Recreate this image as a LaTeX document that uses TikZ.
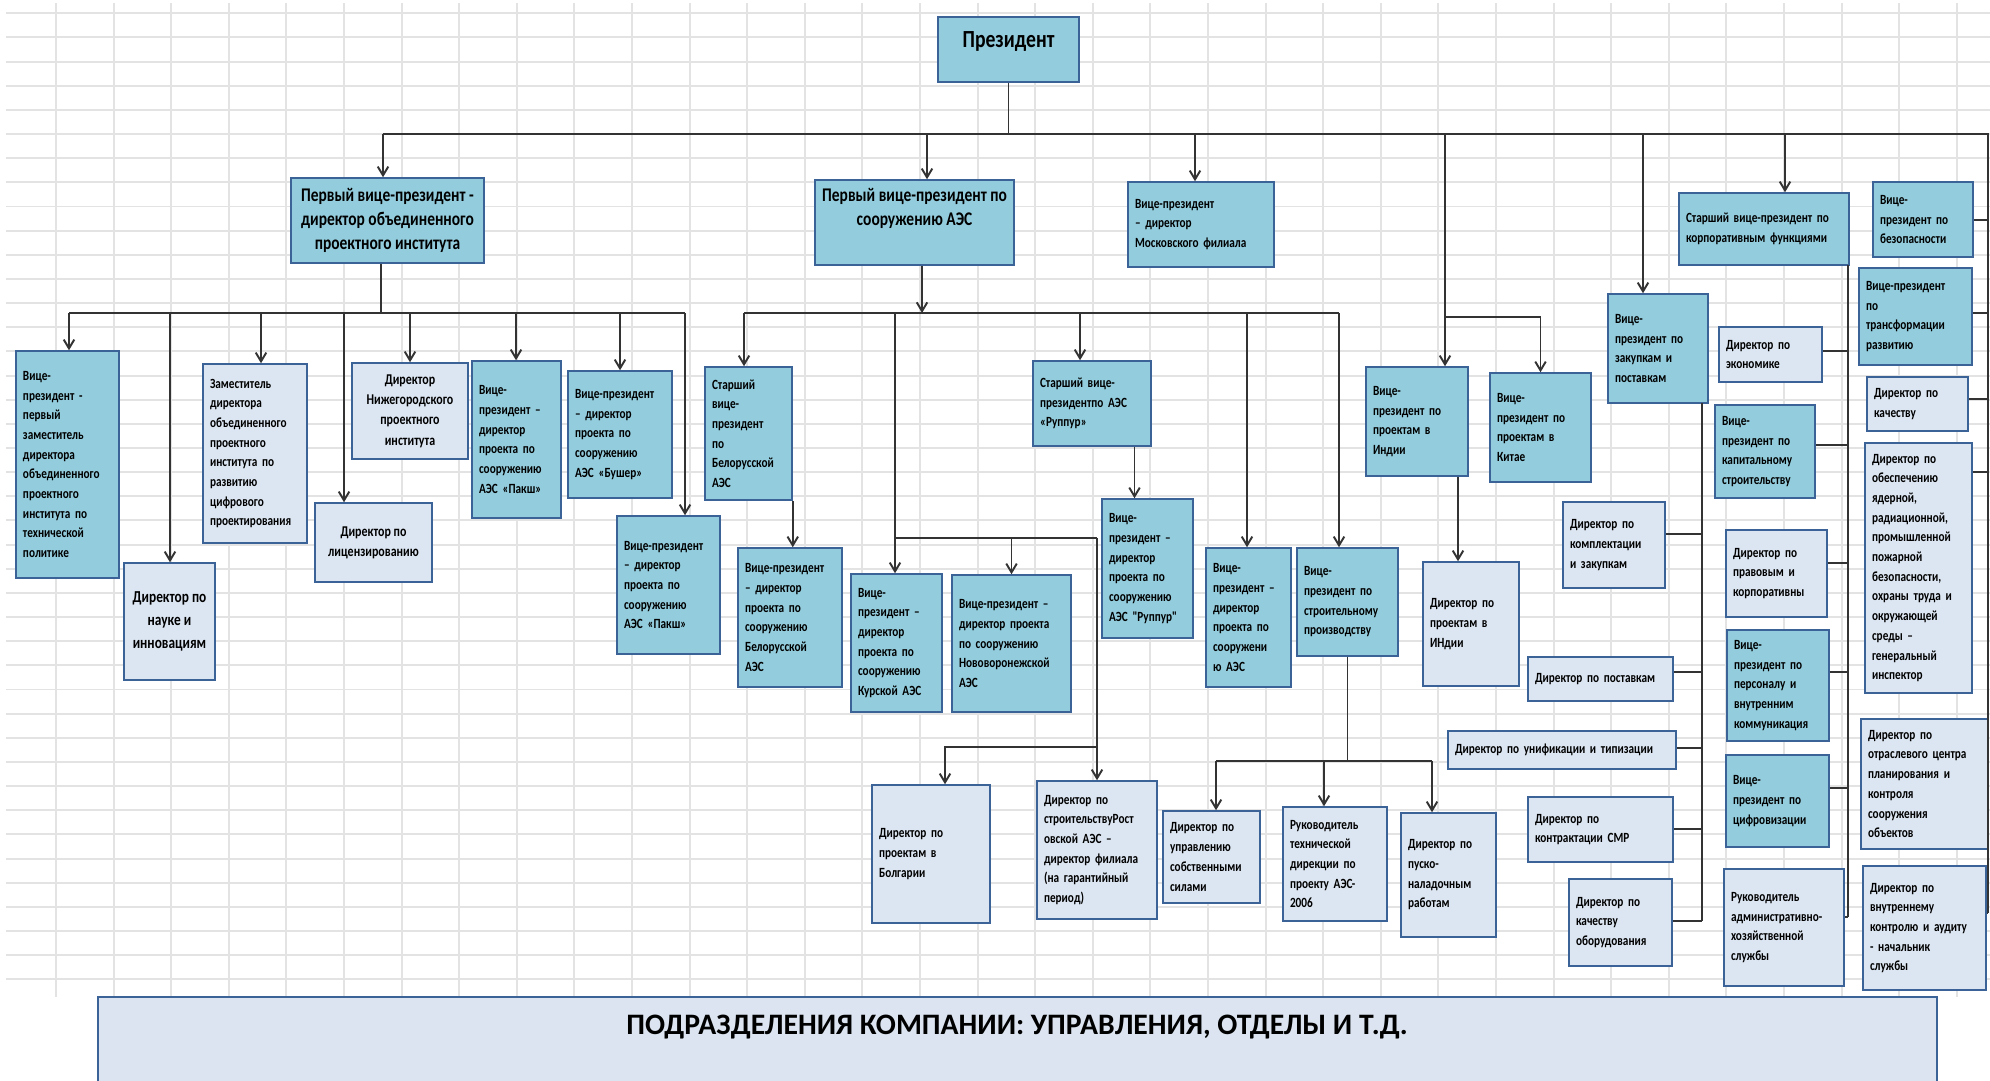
\documentclass[tikz,border=0pt]{standalone}
\usepackage{fontspec}
\setmainfont{Carlito}
\newfontfamily\boxfont{Carlito}[FakeStretch=0.8]
\usepackage{tikz}
\usetikzlibrary{arrows.meta}

\definecolor{dkfill}{HTML}{93CDDD}
\definecolor{ltfill}{HTML}{DCE6F2}
\definecolor{boxline}{HTML}{3B6397}
\definecolor{sheetline}{HTML}{E3E3E3}
\definecolor{bandfill}{HTML}{DBE4F0}

\tikzset{
  orgnode/.style={draw=boxline, line width=0.85pt, inner xsep=0.14cm, inner ysep=0pt, align=left,
    font=\boxfont\bfseries\fontsize{8}{11.2}\selectfont},
  dk/.style={orgnode, fill=dkfill},
  lt/.style={orgnode, fill=ltfill},
  ctr/.style={align=center, text width=},
  wire/.style={line width=1.1pt, draw=black!80},
  feed/.style={wire, ->},
  sheet/.style={line width=1.1pt, draw=sheetline}
}

% box from its corners (x1,y1,x2,y2)
\newcommand\orgbox[7]{%
  \pgfmathsetmacro\bw{(#5-#3)*0.02}%
  \pgfmathsetmacro\bh{(#6-#4)*0.02}%
  \node[minimum width=\bw cm, minimum height=\bh cm, text width={(\bw-0.28)*1cm}, #1]
    (#2) at ({(#3+#5)/2},{(#4+#6)/2}) {#7};}

\begin{document}
\begin{tikzpicture}[x=0.02cm, y=-0.02cm, >={Straight Barb[length=5pt,width=6pt]}]
\useasboundingbox (0,0) rectangle (1990,1081);
\fill[white] (0,0) rectangle (1990,1081);
\foreach \k in {0,...,40}
  \draw[sheet] (6,{13.3+24.15*\k}) -- (1990,{13.3+24.15*\k});
\foreach \k in {0,...,33}
  \draw[sheet] ({56+57.6*\k},3) -- ({56+57.6*\k},997);
\draw[draw=boxline, fill=bandfill, line width=1.1pt] (98,997) rectangle (1937,1100);
\node[font=\bfseries\fontsize{16.9}{20}\selectfont] (units) at (1017,1027) {ПОДРАЗДЕЛЕНИЯ КОМПАНИИ: УПРАВЛЕНИЯ, ОТДЕЛЫ И Т.Д.};

\orgbox{dk, ctr, font=\boxfont\bfseries\fontsize{14}{16}\selectfont}{pres}{938}{17}{1079}{82}{\raisebox{1.4pt}[0pt][0pt]{Президент}}
\orgbox{dk, ctr, font=\boxfont\bfseries\fontsize{11}{13.6}\selectfont}{fvp1}{291}{178}{484}{263}{Первый вице-президент -\\директор объединенного\\проектного института}
\orgbox{dk, ctr, font=\boxfont\bfseries\fontsize{11}{13.6}\selectfont}{fvp2}{817}{180}{1012}{265}{Первый вице-президент по\\сооружению АЭС\\\strut}
\orgbox{dk}{moscow}{1128}{182}{1274}{267}{Вице-президент\\– директор\\Московского филиала}

\orgbox{dk}{vpTech}{16}{351}{119}{578}{Вице-\\президент -\\первый\\заместитель\\директора\\объединенного\\проектного\\института по\\технической\\политике}
\orgbox{lt, ctr, font=\boxfont\bfseries\fontsize{9.5}{13}\selectfont}{nauka}{124}{563}{215}{680}{Директор по\\науке и\\инновациям}
\orgbox{lt}{zam}{203}{364}{307}{543}{Заместитель\\директора\\объединенного\\проектного\\института по\\развитию\\цифрового\\проектирования}
\orgbox{lt, ctr, font=\boxfont\bfseries\fontsize{8.5}{11.4}\selectfont}{licenz}{315}{503}{432}{582}{Директор по\\лицензированию}
\orgbox{lt, ctr, font=\boxfont\bfseries\fontsize{8.5}{11.6}\selectfont}{nizhn}{352}{363}{468}{459}{Директор\\Нижегородского\\проектного\\института}
\orgbox{dk}{paks1}{472}{361}{561}{518}{Вице-\\президент –\\директор\\проекта по\\сооружению\\АЭС «Пакш»}
\orgbox{dk}{busher}{568}{371}{672}{498}{Вице-президент\\– директор\\проекта по\\сооружению\\АЭС «Бушер»}
\orgbox{dk}{paks2}{617}{516}{720}{654}{Вице-президент\\– директор\\проекта по\\сооружению\\АЭС «Пакш»}

\orgbox{dk}{belSr}{705}{367}{792}{500}{Старший\\вице-\\президент\\по\\Белорусской\\АЭС}
\orgbox{dk}{bel}{738}{548}{842}{687}{Вице-президент\\– директор\\проекта по\\сооружению\\Белорусской\\АЭС}
\orgbox{dk}{kursk}{851}{574}{942}{712}{Вице-\\президент –\\директор\\проекта по\\сооружению\\Курской АЭС}
\orgbox{dk}{novovor}{952}{575}{1071}{712}{Вице-президент –\\директор проекта\\по сооружению\\Нововоронежской\\АЭС}
\orgbox{dk}{ruppurSr}{1033}{361}{1151}{446}{Старший вице-\\президентпо АЭС\\«Руппур»}
\orgbox{dk}{ruppur}{1102}{499}{1193}{638}{Вице-\\президент –\\директор\\проекта по\\сооружению\\АЭС "Руппур"}
\orgbox{dk}{vpAes}{1206}{548}{1291}{687}{Вице-\\президент –\\директор\\проекта по\\сооружени\\ю АЭС}
\orgbox{dk}{vpStroi}{1297}{548}{1398}{656}{Вице-\\президент по\\строительному\\производству}
\orgbox{lt}{bulg}{872}{785}{990}{923}{Директор по\\проектам в\\Болгарии}
\orgbox{lt}{rostov}{1037}{781}{1157}{919}{Директор по\\строительствуРост\\овской АЭС –\\директор филиала\\(на гарантийный\\период)}
\orgbox{lt}{sobstv}{1163}{811}{1260}{903}{Директор по\\управлению\\собственными\\силами}
\orgbox{lt}{ruktech}{1283}{807}{1387}{921}{Руководитель\\технической\\дирекции по\\проекту АЭС-\\2006}
\orgbox{lt}{pusk}{1401}{813}{1496}{937}{Директор по\\пуско-\\наладочным\\работам}

\orgbox{dk}{india}{1366}{367}{1468}{476}{Вице-\\президент по\\проектам в\\Индии}
\orgbox{lt}{indDir}{1423}{562}{1519}{686}{Директор по\\проектам в\\ИНдии}
\orgbox{dk}{china}{1490}{373}{1591}{482}{Вице-\\президент по\\проектам в\\Китае}

\orgbox{dk}{zakup}{1608}{294}{1708}{403}{Вице-\\президент по\\закупкам и\\поставкам}
\orgbox{lt}{komplekt}{1563}{502}{1665}{588}{Директор по\\комплектации\\и закупкам}
\orgbox{lt}{postav}{1528}{657}{1673}{701}{Директор по поставкам}
\orgbox{lt}{unif}{1448}{731}{1676}{769}{Директор по унификации и типизации}
\orgbox{lt}{smr}{1528}{797}{1673}{862}{Директор по\\контрактации СМР}
\orgbox{lt}{kachOb}{1569}{879}{1672}{966}{Директор по\\качеству\\оборудования}

\orgbox{dk}{corp}{1679}{193}{1849}{265}{Старший вице-президент по\\корпоративным функциями}
\orgbox{lt}{econ}{1719}{327}{1822}{382}{Директор по\\экономике}
\orgbox{dk}{kapstr}{1715}{405}{1815}{498}{Вице-\\президент по\\капитальному\\строительству}
\orgbox{lt}{pravo}{1726}{530}{1827}{617}{Директор по\\правовым и\\корпоративны}
\orgbox{dk}{person}{1727}{630}{1829}{741}{Вице-\\президент по\\персоналу и\\внутренним\\коммуникация}
\orgbox{dk}{cifra}{1726}{755}{1829}{847}{Вице-\\президент по\\цифровизации}
\orgbox{lt}{ahs}{1724}{869}{1844}{986}{Руководитель\\административно-\\хозяйственной\\службы}

\orgbox{dk}{bezop}{1873}{182}{1973}{257}{Вице-\\президент по\\безопасности}
\orgbox{dk}{transf}{1859}{268}{1972}{365}{Вице-президент\\по\\трансформации\\развитию}
\orgbox{lt}{kach}{1867}{377}{1968}{431}{Директор по\\качеству}
\orgbox{lt}{yadern}{1865}{443}{1972}{693}{Директор по\\обеспечению\\ядерной,\\радиационной,\\промышленной\\пожарной\\безопасности,\\охраны труда и\\окружающей\\среды –\\генеральный\\инспектор}
\orgbox{lt}{otrasl}{1861}{719}{1988}{849}{Директор по\\отраслевого центра\\планирования и\\контроля\\сооружения\\объектов}
\orgbox{lt}{vnutr}{1863}{866}{1986}{990}{Директор по\\внутреннему\\контролю и аудиту\\- начальник\\службы}

% president bus
\coordinate (mbL) at (383,134);
\coordinate (mbR) at (1988,134);
\draw[wire] (pres.south) -- (pres.south |- mbL);
\draw[wire] (mbL) -- (mbR) -- (mbR |- 0,913);
\foreach \x/\n in {383/fvp1, 927/fvp2, 1195/moscow, 1445/india, 1643/zakup, 1785/corp}
  {\coordinate (t-\n) at (\x,134); \draw[feed] (t-\n) -- (t-\n |- \n.north);}
\coordinate (chJ) at (1445,317);
\draw[feed] (chJ) -- (chJ -| china.north) -- (china.north);
\foreach \n/\y in {bezop/220, transf/313, kach/399, yadern/472, otrasl/760, vnutr/913}
  \draw[wire] (\n.east |- 0,\y) -- (mbR |- 0,\y);

% design institute
\coordinate (b1L) at (69,313);
\coordinate (b1R) at (685,313);
\coordinate (f1X) at ([xshift=-0.13cm]fvp1.south);
\draw[wire] (f1X) -- (f1X |- b1L);
\draw[wire] (b1L) -- (b1R);
\foreach \x/\n in {69/vpTech, 170/nauka, 261/zam, 344/licenz, 410/nizhn, 516/paks1, 620/busher, 685/paks2}
  {\coordinate (t-\n) at (\x,313); \draw[feed] (t-\n) -- (t-\n |- \n.north);}

% construction
\coordinate (b2A) at (922,313);
\coordinate (b2L) at (744,313);
\coordinate (b2R) at (1339,313);
\draw[feed] (fvp2.south -| b2A) -- (b2A);
\draw[wire] (b2L) -- (b2R);
\foreach \x/\n in {744/belSr, 895/kursk, 1080/ruppurSr, 1247/vpAes, 1339/vpStroi}
  {\coordinate (t-\n) at (\x,313); \draw[feed] (t-\n) -- (t-\n |- \n.north);}
\draw[feed] (belSr.south east) -- (belSr.south east |- bel.north);
\coordinate (kJ) at (895,538);
\coordinate (rJ) at (1097,538);
\draw[wire] (kJ) -- (rJ);
\draw[feed] (novovor.north |- kJ) -- (novovor.north);
\draw[feed] (rJ) -- (rJ |- rostov.north);
\coordinate (bgJ) at (1097,747);
\coordinate (bgL) at (945,747);
\draw[feed] (bgJ) -- (bgL) -- (bgL |- bulg.north);
\coordinate (rpX) at ([xshift=-0.26cm]ruppur.north);
\draw[feed] (rpX |- ruppurSr.south) -- (rpX);
\coordinate (b3L) at (1216,761);
\coordinate (b3R) at (1432,761);
\draw[wire] (vpStroi.south) -- (vpStroi.south |- b3L);
\draw[wire] (b3L) -- (b3R);
\foreach \x/\n in {1216/sobstv, 1324/ruktech, 1432/pusk}
  {\coordinate (t-\n) at (\x,761); \draw[feed] (t-\n) -- (t-\n |- \n.north);}

% india
\coordinate (idX) at ([xshift=-0.26cm]indDir.north);
\draw[feed] (idX |- india.south) -- (idX);

% procurement
\coordinate (zT) at (1702,403);
\draw[wire] (zT) -- (zT |- 0,921);
\foreach \n/\y in {komplekt/534, postav/672, unif/748, smr/829, kachOb/921}
  \draw[wire] (\n.east |- 0,\y) -- (zT |- 0,\y);

% corporate functions
\coordinate (cT) at (1848,265);
\draw[wire] (cT) -- (cT |- 0,917);
\foreach \n/\y in {econ/351, kapstr/445, pravo/563, person/672, cifra/788, ahs/917}
  \draw[wire] (\n.east |- 0,\y) -- (cT |- 0,\y);
\end{tikzpicture}
\end{document}
